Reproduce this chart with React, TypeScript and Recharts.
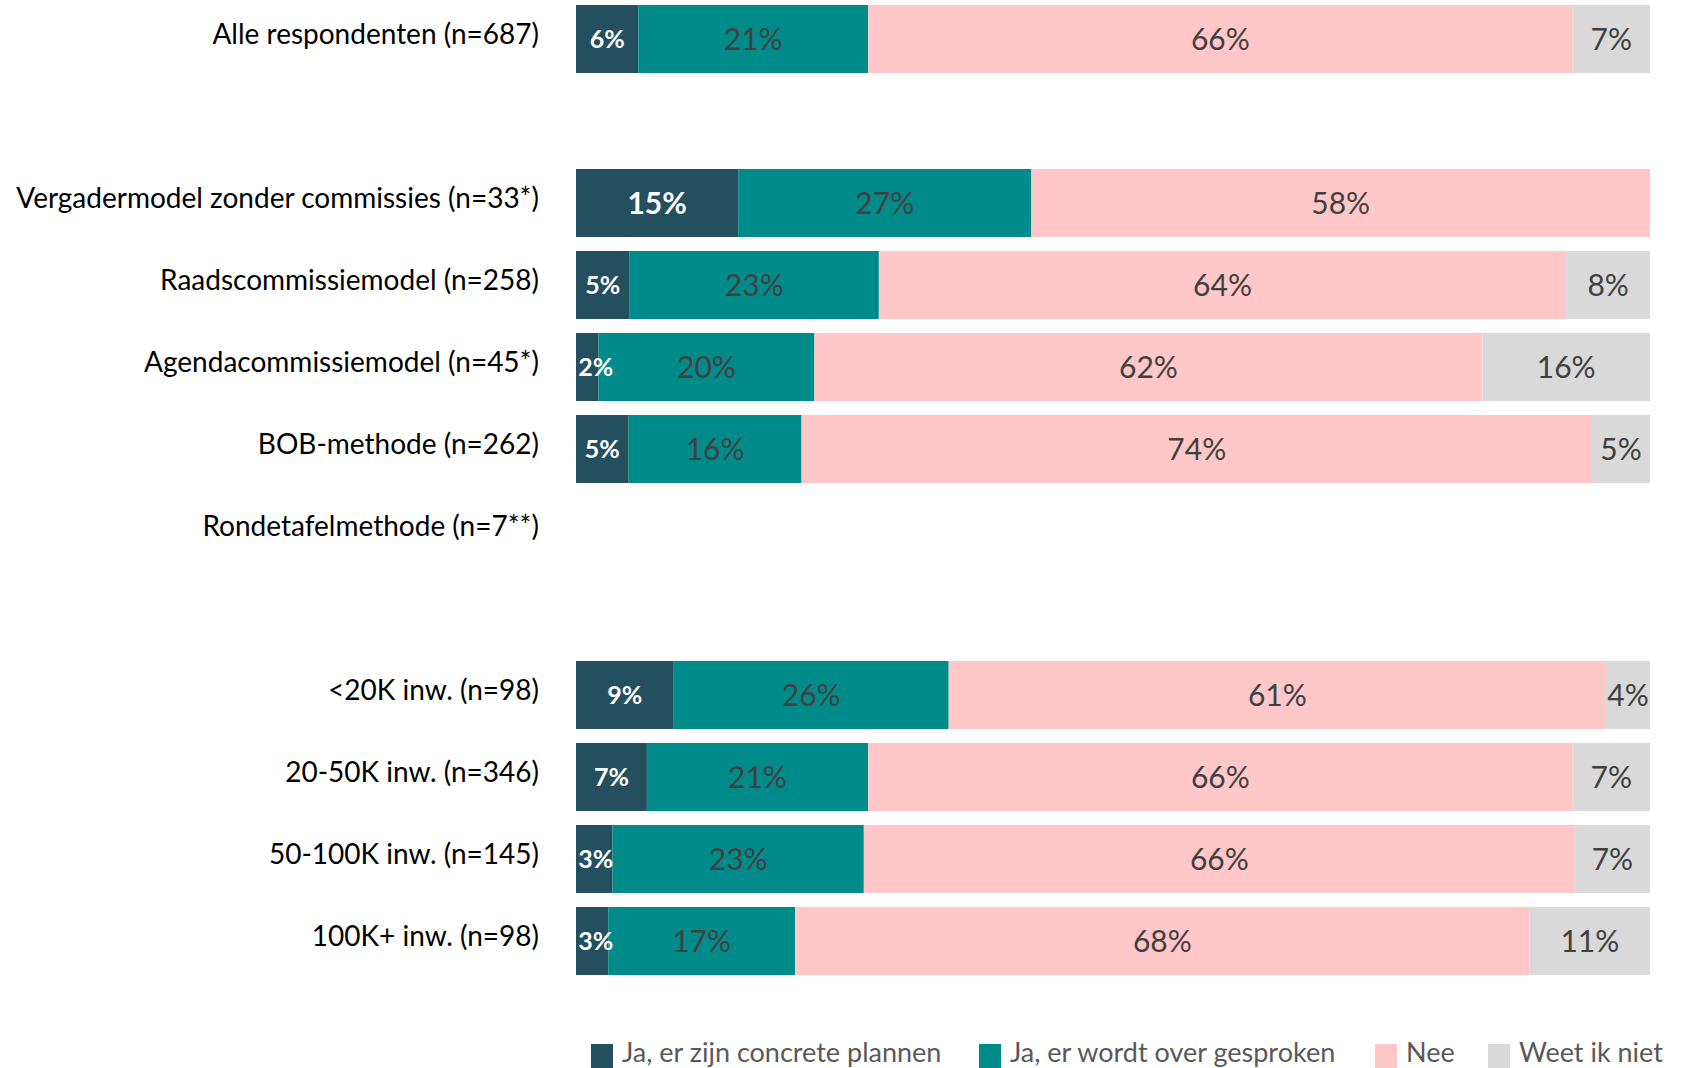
import { Bar, BarChart, LabelList, XAxis, YAxis } from 'recharts'

// categories (empty strings are spacer rows)
const categories = [
  'Alle respondenten (n=687)',
  '',
  'Vergadermodel zonder commissies (n=33*)',
  'Raadscommissiemodel (n=258)',
  'Agendacommissiemodel (n=45*)',
  'BOB-methode (n=262)',
  'Rondetafelmethode (n=7**)',
  ' ',
  '<20K inw. (n=98)',
  '20-50K inw. (n=346)',
  '50-100K inw. (n=145)',
  '100K+ inw. (n=98)',
]

// percentages per category, null = no bar
const concrete = [5.8, null, 15.1, 5.0, 2.1, 4.9, null, null, 9.1, 6.6, 3.4, 3.0]
const besproken = [21.4, null, 27.3, 23.2, 20.1, 16.1, null, null, 25.6, 20.6, 23.4, 17.4]
const nee = [65.6, null, 57.6, 64.0, 62.2, 73.6, null, null, 61.2, 65.6, 66.2, 68.4]
const weetNiet = [7.2, null, 0, 7.8, 15.6, 5.4, null, null, 4.1, 7.2, 7.0, 11.2]

const seriesNames = ['Ja, er zijn concrete plannen', 'Ja, er wordt over gesproken', 'Nee', 'Weet ik niet']
const colors = ['#234F5E', '#008B8B', '#FFC7C7', '#D9D9D9']

const data = categories.map((label, i) => ({
  label,
  concrete: concrete[i],
  besproken: besproken[i],
  nee: nee[i],
  weetNiet: weetNiet[i],
}))

const FONT = 'Lato, "Open Sans", sans-serif'

function CategoryTick(props: any) {
  const { x, y, payload } = props
  return (
    <text x={x - 29} y={y - 5} dy="0.355em" textAnchor="end" fontSize={28} fill="#000" fontFamily={FONT}>
      {payload.value}
    </text>
  )
}

function makeLabel(dark: boolean) {
  return (props: any) => {
    const { x, y, width, height, value } = props
    if (value == null || value === 0) return null
    const text = `${Math.round(value)}%`
    const fontSize = dark ? (width > 100 ? 30 : 25) : 30
    const half = (text.length * fontSize * 0.55) / 2
    let cx = x + width / 2
    if (dark && width < 45) cx = Math.max(cx, x + half + 6)
    return (
      <text
        x={cx}
        y={y + height / 2}
        dy="0.355em"
        textAnchor="middle"
        fontSize={fontSize}
        fontWeight={dark ? 700 : 400}
        fill={dark ? '#ffffff' : '#404040'}
        fontFamily={FONT}
      >
        {text}
      </text>
    )
  }
}

const legendX = [591, 979, 1375, 1488]

export default function App() {
  return (
    <div style={{ position: 'absolute', left: 0, top: 0, width: 1691, height: 1068, overflow: 'hidden', background: '#fff' }}>
      <div style={{ position: 'absolute', left: 0, top: -2 }}>
        <BarChart
          width={1691}
          height={1070}
          data={data}
          layout="vertical"
          barCategoryGap={7}
          margin={{ top: 0, right: 41, bottom: 86, left: 0 }}
        >
          <XAxis type="number" domain={[0, 100]} hide />
          <YAxis
            type="category"
            dataKey="label"
            width={576}
            axisLine={false}
            tickLine={false}
            interval={0}
            tick={<CategoryTick />}
          />
          <Bar dataKey="concrete" stackId="a" fill={colors[0]} isAnimationActive={false}>
            <LabelList dataKey="concrete" content={makeLabel(true)} />
          </Bar>
          <Bar dataKey="besproken" stackId="a" fill={colors[1]} isAnimationActive={false}>
            <LabelList dataKey="besproken" content={makeLabel(false)} />
          </Bar>
          <Bar dataKey="nee" stackId="a" fill={colors[2]} isAnimationActive={false}>
            <LabelList dataKey="nee" content={makeLabel(false)} />
          </Bar>
          <Bar dataKey="weetNiet" stackId="a" fill={colors[3]} isAnimationActive={false}>
            <LabelList dataKey="weetNiet" content={makeLabel(false)} />
          </Bar>
        </BarChart>
      </div>
      {seriesNames.map((name, i) => (
        <div key={name}>
          <span
            style={{ position: 'absolute', left: legendX[i], top: 1044, width: 22, height: 24, background: colors[i] }}
          />
          <span
            style={{
              position: 'absolute',
              left: legendX[i] + 31,
              top: 1037,
              lineHeight: '30px',
              fontFamily: FONT,
              fontSize: 27,
              color: '#595959',
              whiteSpace: 'nowrap',
            }}
          >
            {name}
          </span>
        </div>
      ))}
    </div>
  )
}
